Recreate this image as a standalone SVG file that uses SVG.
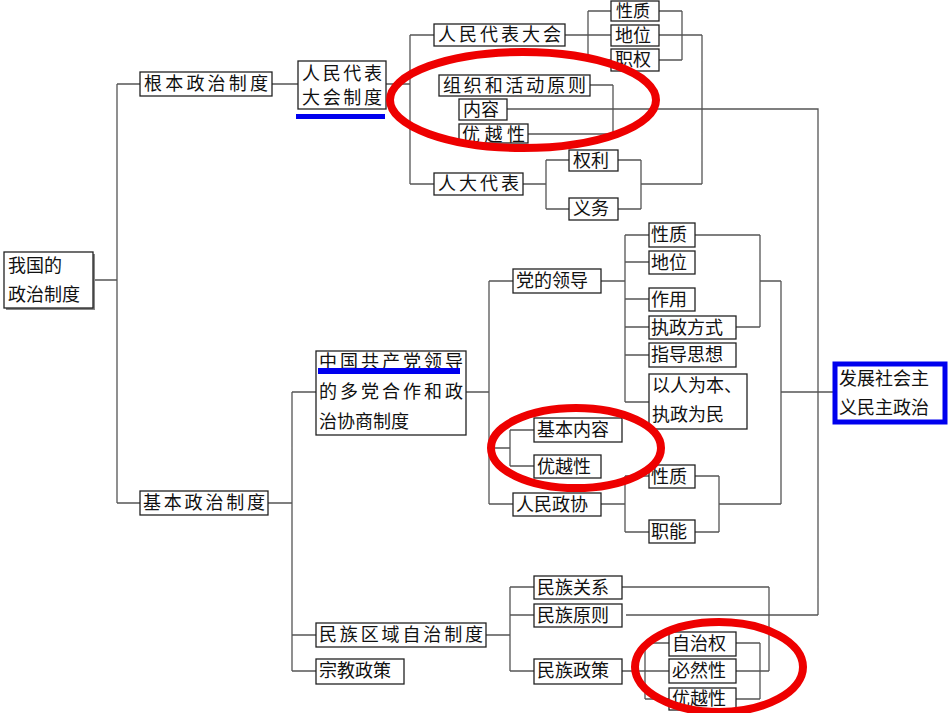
<svg xmlns="http://www.w3.org/2000/svg" width="950" height="713" viewBox="0 0 950 713">
<style>
.b{fill:#fff;stroke:#222;stroke-width:1.3}
.s{fill:#888}
text{font-family:"Noto Sans CJK SC","Liberation Serif",serif;font-size:18px;fill:#111}
#conn path{fill:none;stroke:#555;stroke-width:1.3}
.r{fill:none;stroke:#e00;stroke-width:8}
.u{fill:#0000ee}
</style>
<rect width="950" height="713" fill="#fff"/>
<g id="conn"><path d="M93 280H117M117 84V503M117 84H140M117 503H140
M272 84H298M386 84H410M410 35V184M410 35H434M410 184H434
M565 35H588M588 11V60M588 11H611M588 35H611M588 60H611M659 11H682M659 35H682M659 60H682M682 11V60M682 35H702M702 35V184M641 184H702
M590 85H613M613 85V134M528 134H613M507 109H818V615M626 615H818
M523 184H546M546 160V209M546 160H569M546 209H569M618 160H641M618 209H641M641 160V209
M268 503H292M292 392V671M292 392H316M292 635H316M292 671H316
M466 392H489M489 281V504M489 281H513M489 504H513M489 448H510M510 430V466M510 430H534M510 466H534
M601 281H625M625 235V402M625 235H649M625 262H649M625 299H649M625 327H649M625 355H649M625 402H649
M695 235H760M736 327H760M760 235V327M760 281H781M781 281V504M781 392H833
M601 504H625M625 476V532M625 476H649M625 532H649M695 476H719M695 532H719M719 476V532M719 504H781
M486 635H510M510 587V671M510 587H534M510 615H534M510 671H534M622 587H769M769 587V671
M622 671H645M645 643V699M645 643H669M645 671H669M645 699H669M736 643H760M736 671H769M736 699H760M760 643V699"/></g>
<g id="n1"><rect class="s" x="6" y="254" width="89" height="56"/><rect class="b" x="4" y="252" width="89" height="56"/><text x="8" y="272">我国的</text><text x="8" y="301">政治制度</text></g>
<g id="n2"><rect class="b" x="140" y="72" width="132" height="24"/><text x="144" y="90" textLength="124" lengthAdjust="spacing">根本政治制度</text></g>
<g id="n3"><rect class="b" x="140" y="491" width="128" height="24"/><text x="143" y="509" textLength="122" lengthAdjust="spacing">基本政治制度</text></g>
<g id="n4"><rect class="b" x="298" y="61" width="88" height="48"/><text x="302" y="80" textLength="80" lengthAdjust="spacing">人民代表</text><text x="302" y="104" textLength="80" lengthAdjust="spacing">大会制度</text><rect class="u" x="296" y="114" width="89" height="5"/></g>
<g id="n5"><rect class="b" x="434" y="24" width="131" height="22"/><text x="438" y="41" textLength="123" lengthAdjust="spacing">人民代表大会</text></g>
<g id="n6"><rect class="b" x="611" y="1" width="48" height="20"/><text x="616" y="17" style="font-size:17px">性质</text></g>
<g id="n7"><rect class="b" x="611" y="25" width="48" height="21"/><text x="615" y="42">地位</text></g>
<g id="n8"><rect class="b" x="611" y="49" width="48" height="22"/><text x="615" y="66">职权</text></g>
<g id="n9"><rect class="b" x="439" y="75" width="151" height="21"/><text x="443" y="92" textLength="143" lengthAdjust="spacing">组织和活动原则</text></g>
<g id="n10"><rect class="b" x="459" y="99" width="48" height="21"/><text x="463" y="116">内容</text></g>
<g id="n11"><rect class="b" x="459" y="124" width="69" height="19"/><text x="462" y="141" textLength="63" lengthAdjust="spacing">优越性</text></g>
<g id="n12"><rect class="b" x="434" y="173" width="89" height="22"/><text x="438" y="190" textLength="81" lengthAdjust="spacing">人大代表</text></g>
<g id="n13"><rect class="b" x="569" y="150" width="49" height="21"/><text x="573" y="167">权利</text></g>
<g id="n14"><rect class="b" x="569" y="198" width="49" height="22"/><text x="573" y="215">义务</text></g>
<g id="n15"><rect class="b" x="316" y="351" width="150" height="84"/><text x="319" y="368" textLength="144" lengthAdjust="spacing">中国共产党领导</text><rect class="u" x="318" y="368" width="142" height="6"/><text x="319" y="398" textLength="144" lengthAdjust="spacing">的多党合作和政</text><text x="319" y="428">治协商制度</text></g>
<g id="n16"><rect class="b" x="513" y="269" width="88" height="24"/><text x="516" y="287">党的领导</text></g>
<g id="n17"><rect class="b" x="649" y="223" width="46" height="24"/><text x="651" y="241">性质</text></g>
<g id="n18"><rect class="b" x="649" y="251" width="46" height="23"/><text x="651" y="269">地位</text></g>
<g id="n19"><rect class="b" x="649" y="288" width="46" height="23"/><text x="651" y="306">作用</text></g>
<g id="n20"><rect class="b" x="649" y="316" width="87" height="23"/><text x="651" y="334">执政方式</text></g>
<g id="n21"><rect class="b" x="649" y="343" width="87" height="24"/><text x="651" y="361">指导思想</text></g>
<g id="n22"><rect class="b" x="649" y="374" width="98" height="55"/><text x="652" y="392">以人为本、</text><text x="652" y="421">执政为民</text></g>
<g id="n23"><rect class="b" x="534" y="418" width="88" height="24"/><text x="537" y="436">基本内容</text></g>
<g id="n24"><rect class="b" x="534" y="455" width="67" height="23"/><text x="537" y="473">优越性</text></g>
<g id="n25"><rect class="b" x="513" y="493" width="88" height="23"/><text x="516" y="511">人民政协</text></g>
<g id="n26"><rect class="b" x="649" y="465" width="46" height="23"/><text x="651" y="483">性质</text></g>
<g id="n27"><rect class="b" x="649" y="520" width="46" height="23"/><text x="651" y="538">职能</text></g>
<g id="n28"><rect class="b" x="316" y="623" width="170" height="24"/><text x="319" y="641" textLength="164" lengthAdjust="spacing">民族区域自治制度</text></g>
<g id="n29"><rect class="b" x="316" y="659" width="88" height="25"/><text x="319" y="677">宗教政策</text></g>
<g id="n30"><rect class="b" x="534" y="576" width="88" height="23"/><text x="537" y="594">民族关系</text></g>
<g id="n31"><rect class="b" x="534" y="604" width="88" height="23"/><text x="537" y="622">民族原则</text></g>
<g id="n32"><rect class="b" x="534" y="659" width="88" height="25"/><text x="537" y="677">民族政策</text></g>
<g id="n33"><rect class="b" x="669" y="632" width="67" height="24"/><text x="672" y="650">自治权</text></g>
<g id="n34"><rect class="b" x="669" y="659" width="67" height="24"/><text x="672" y="677">必然性</text></g>
<g id="n35"><rect class="b" x="669" y="688" width="67" height="22"/><text x="672" y="705">优越性</text></g>
<g id="n36"><rect x="835" y="364" width="110" height="58" fill="#fff" stroke="#0000ee" stroke-width="5"/><text x="839" y="385">发展社会主</text><text x="839" y="414">义民主政治</text></g>
<ellipse class="r" cx="523" cy="100" rx="133" ry="48"/>
<ellipse class="r" cx="576" cy="448" rx="85" ry="40"/>
<ellipse class="r" cx="719" cy="667" rx="84" ry="45"/>
</svg>
